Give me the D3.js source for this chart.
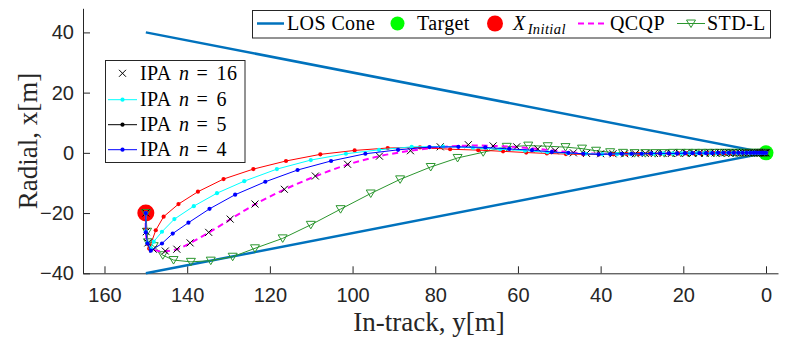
<!DOCTYPE html>
<html>
<head>
<meta charset="utf-8">
<script src="https://cdn.jsdelivr.net/npm/d3@7"></script>
<style>
  html, body { margin: 0; padding: 0; background: #fff; }
  svg { display: block; }
</style>
</head>
<body>
<svg id="chart" width="787" height="343"></svg>
<script>
// ---- data: [in-track y (m), radial x (m)] ----
const xTicks = [160, 140, 120, 100, 80, 60, 40, 20, 0];
const yTicks = [-40, -20, 0, 20, 40];

const losUpper = [[150, 40], [0, 0]];
const losLower = [[150, -40], [0, 0]];
const target = [0, 0];
const initialState = [150, -20];

const stdL = [[150,-20],[149.7,-26.2],[149.5,-29.7],[148.1,-31.0],[145.9,-34.0],[143.3,-35.6],[139.1,-36.2],
  [134.3,-35.8],[129.0,-34.5],[123.6,-31.7],[116.9,-28.4],[110.1,-23.9],[102.9,-18.7],[95.6,-13.5],[88.5,-8.8],
  [81.1,-4.7],[74.6,-1.7],[68.4,0.2],[62.7,2.0],[57.5,2.4],[52.8,2.2],[48.5,1.9],[44.5,1.4],[41.1,0.7],[37.7,0.2],
  [34.6,0],[31.8,-0.1],[29.2,-0.1],[26.8,-0.1],[24.6,-0.1],[22.5,0],[20.6,0],[18.8,0],[17.1,0],[15.5,0],[14.0,0],
  [12.6,0],[11.3,0],[10.1,0],[9.0,0],[7.9,0],[6.9,0],[6.0,0],[5.1,0],[4.3,0],[3.5,0],[2.8,0],[2.2,0],[1.6,0],
  [1.1,0],[0.6,0],[0.2,0],[0,0]];

const qcqp = [[150,-20],[150,-26],[149.6,-30],[148.6,-31.8],[147.0,-32.6],[145.3,-32.7],[142.5,-32.0],[139.3,-30.0],
  [134.8,-26.5],[129.6,-22.1],[123.6,-17.1],[116.5,-12.2],[109.0,-7.8],[101.2,-3.9],[93.5,-1.1],[86.0,0.7],
  [78.8,1.9],[72.0,2.4],[66.0,2.3],[60.3,1.9],[55.2,1.3],[51.0,0.7],[46.6,0.1],[43.4,-0.2],[40.0,-0.3],
  [34.0,-0.3],[28.0,-0.2],[22.0,-0.1],[16.0,-0.1],[10.0,0],[5.0,0],[0,0]];

const ipaN16 = [[150,-20],[149.9,-26.2],[149.5,-29.9],[148.2,-32.0],[145.3,-32.6],[142.5,-32.0],[139.3,-29.9],
  [134.8,-26.4],[129.6,-22.0],[123.6,-17.0],[116.5,-12.1],[109.0,-7.7],[101.2,-3.8],[93.5,-1.1],[86.0,0.7],
  [78.8,2.0],[72.0,2.7],[66.0,2.3],[60.3,2.0],[55.2,1.3],[51.0,0.7],[46.6,0],[43.4,-0.2],[40.0,-0.3],[37.0,-0.3],
  [34.2,-0.3],[31.6,-0.3],[29.2,-0.2],[27.0,-0.2],[24.9,-0.2],[22.9,-0.2],[21.0,-0.1],[19.3,-0.1],[17.7,-0.1],
  [16.2,-0.1],[14.8,-0.1],[13.5,0],[12.3,0],[11.1,0],[10.0,0],[9.0,0],[8.1,0],[7.2,0],[6.4,0],[5.6,0],[4.9,0],
  [4.2,0],[3.6,0],[3.0,0],[2.5,0],[2.0,0],[1.6,0],[1.2,0],[0.8,0],[0.5,0],[0.2,0],[0,0]];

const ipaN5 = [[150,-20],[150,-25.5],[149.6,-30.2],[149.2,-31.8],[147.6,-25.7],[145.7,-21.2],[142.1,-17.0],
  [137.4,-12.9],[131.2,-8.7],[124.0,-5.4],[116.1,-2.7],[107.8,-0.5],[99.5,0.8],[91.5,1.6],[83.7,1.8],[76.4,1.2],
  [69.6,0.9],[63.6,0.5],[58.0,0.1],[53.0,-0.2],[48.4,-0.4],[44.2,-0.5],[40.4,-0.5],[36.9,-0.5],[33.7,-0.4],
  [30.8,-0.4],[28.1,-0.3],[25.6,-0.3],[23.3,-0.3],[21.2,-0.2],[19.2,-0.2],[17.4,-0.2],[15.7,-0.2],[14.1,-0.1],
  [12.6,-0.1],[11.2,-0.1],[9.9,-0.1],[8.7,-0.1],[7.6,0],[6.6,0],[5.6,0],[4.7,0],[3.9,0],[3.1,0],[2.4,0],[1.8,0],
  [1.2,0],[0.7,0],[0.3,0],[0,0]];

const ipaN6 = [[150,-20],[150,-26],[149.6,-30],[148.8,-31.7],[148.1,-29.5],[146.1,-26.2],[143.1,-22.0],
  [138.4,-17.7],[132.8,-13.4],[126.2,-9.4],[118.3,-5.4],[110.1,-2.4],[101.6,-0.3],[93.6,1.0],[85.7,2.0],[78.1,2.1],
  [70.9,1.7],[64.3,1.2],[58.3,0.7],[52.9,0.2],[48.0,-0.1],[43.6,-0.3],[39.6,-0.4],[36.0,-0.4],[32.8,-0.4],
  [29.9,-0.3],[27.2,-0.3],[24.8,-0.2],[22.5,-0.2],[20.4,-0.2],[18.5,-0.1],[16.7,-0.1],[15.0,-0.1],[13.4,-0.1],
  [11.9,-0.1],[10.5,0],[9.2,0],[8.0,0],[6.9,0],[5.9,0],[4.9,0],[4.0,0],[3.2,0],[2.5,0],[1.8,0],[1.2,0],[0.7,0],
  [0.3,0],[0,0]];

const ipaN4 = [[150,-20],[150,-26.4],[149.6,-30.1],[148.8,-32.5],[146.1,-30.1],[143.5,-26.8],[139.7,-23.2],
  [134.6,-18.6],[128.4,-13.9],[121.1,-9.6],[113.3,-5.7],[105.2,-2.7],[96.9,-0.3],[89.0,1.0],[81.4,1.9],[74.4,2.0],
  [67.9,1.8],[62.1,1.3],[56.6,0.9],[51.8,0.3],[47.8,0],[44.2,-0.3],[40.5,-0.5],[37.7,-0.4],[34.9,-0.3],[32.5,-0.3],
  [30.1,-0.3],[27.8,-0.2],[25.6,-0.2],[23.5,-0.2],[21.5,-0.2],[19.6,-0.1],[17.8,-0.1],[16.1,-0.1],[14.5,-0.1],
  [13.0,-0.1],[11.6,0],[10.3,0],[9.0,0],[7.8,0],[6.7,0],[5.7,0],[4.7,0],[3.8,0],[3.0,0],[2.3,0],[1.6,0],[1.0,0],
  [0.5,0],[0,0]];

// ---- layout ----
const svg = d3.select("#chart");
const axisColor = "#262626";
const x = d3.scaleLinear().domain([165.2, -2.9]).range([83, 778]);
const y = d3.scaleLinear().domain([-40, 48]).range([273.3, 8.3]);

const colors = {
  los: "#0072BD", target: "#00FF00", initial: "#FF0000", qcqp: "#FF00FF",
  stdL: "#2b962e", n16: "#000000", n5: "#FF0000", n6: "#00FFFF", n4: "#0000FF"
};

// axes
const xAxis = d3.axisBottom(x).tickValues(xTicks).tickSizeInner(-7).tickSizeOuter(0).tickPadding(15);
const yAxis = d3.axisLeft(y).tickValues(yTicks).tickSizeInner(-7).tickSizeOuter(0).tickPadding(9);

function styleAxis(g) {
  g.select(".domain").attr("stroke", axisColor).attr("stroke-width", 1);
  g.selectAll(".tick line").attr("stroke", axisColor).attr("stroke-width", 1);
  g.selectAll(".tick text").attr("fill", axisColor)
    .style("font-family", "'Liberation Sans', Arial, sans-serif").style("font-size", "20px");
}
svg.append("g").attr("transform", `translate(0,${y(-40)})`).call(xAxis).call(styleAxis);
svg.append("g").attr("transform", `translate(${x(165.2)},0)`).call(yAxis).call(styleAxis);

// axis titles
const serif = "'Liberation Serif', 'Times New Roman', serif";
svg.append("text").attr("x", 429).attr("y", 331).attr("text-anchor", "middle")
  .style("font-family", serif).style("font-size", "27px").attr("fill", axisColor)
  .text("In-track, y[m]");
svg.append("text").attr("transform", "translate(37,141) rotate(-90)").attr("text-anchor", "middle")
  .style("font-family", serif).style("font-size", "27px").attr("fill", axisColor)
  .text("Radial, x[m]");

// plot content
const plot = svg.append("g");
const line = d3.line().x(d => x(d[0])).y(d => y(d[1]));

// target and initial state
plot.append("circle").attr("cx", x(target[0])).attr("cy", y(target[1])).attr("r", 7.5).attr("fill", colors.target);
plot.append("circle").attr("cx", x(initialState[0])).attr("cy", y(initialState[1])).attr("r", 8.5).attr("fill", colors.initial);

// LOS cone
[losUpper, losLower].forEach(seg => {
  plot.append("path").attr("d", line(seg)).attr("fill", "none")
    .attr("stroke", colors.los).attr("stroke-width", 2.5);
});

const triDown = "M-4.5,-3.5L4.5,-3.5L0,4Z";
function drawX(g, cx, cy, s, color) {
  g.append("path").attr("d", `M${cx - s},${cy - s}L${cx + s},${cy + s}M${cx - s},${cy + s}L${cx + s},${cy - s}`)
    .attr("stroke", color).attr("stroke-width", 1).attr("fill", "none");
}

// STD-L
plot.append("path").attr("d", line(stdL)).attr("fill", "none").attr("stroke", colors.stdL).attr("stroke-width", 1);
plot.append("g").selectAll("path").data(stdL).join("path")
  .attr("d", triDown).attr("transform", d => `translate(${x(d[0])},${y(d[1])})`)
  .attr("fill", "none").attr("stroke", colors.stdL).attr("stroke-width", 1);

// QCQP
const smooth = d3.line().x(d => x(d[0])).y(d => y(d[1])).curve(d3.curveCatmullRom);
plot.append("path").attr("d", smooth(qcqp)).attr("fill", "none")
  .attr("stroke", colors.qcqp).attr("stroke-width", 2).attr("stroke-dasharray", "6,4");

// IPA n = 16 (markers only)
const gx = plot.append("g");
ipaN16.forEach(d => drawX(gx, x(d[0]), y(d[1]), 3.5, colors.n16));

// IPA line + dot series
function dotSeries(data, color) {
  plot.append("path").attr("d", line(data)).attr("fill", "none").attr("stroke", color).attr("stroke-width", 1);
  plot.append("g").selectAll("circle").data(data).join("circle")
    .attr("cx", d => x(d[0])).attr("cy", d => y(d[1])).attr("r", 2.1).attr("fill", color);
}
dotSeries(ipaN5, colors.n5);
dotSeries(ipaN6, colors.n6);
dotSeries(ipaN4, colors.n4);

// ---- legend: trajectories and geometry ----
const leg1 = svg.append("g");
leg1.append("rect").attr("x", 252.5).attr("y", 10.5).attr("width", 518).attr("height", 27.5)
  .attr("fill", "#fff").attr("stroke", axisColor).attr("stroke-width", 1);
const ly = 23.5, lb = 29.5;
function legText(g, tx, tb) {
  return g.append("text").attr("x", tx).attr("y", tb).style("font-family", serif)
    .style("font-size", "20px").style("letter-spacing", "0.4px").attr("fill", "#000");
}
leg1.append("line").attr("x1", 257).attr("x2", 284).attr("y1", ly).attr("y2", ly)
  .attr("stroke", colors.los).attr("stroke-width", 2.5);
legText(leg1, 287, lb).text("LOS Cone");
leg1.append("circle").attr("cx", 397.5).attr("cy", ly).attr("r", 7).attr("fill", colors.target);
legText(leg1, 417, lb).text("Target");
leg1.append("circle").attr("cx", 495).attr("cy", ly).attr("r", 8).attr("fill", colors.initial);
const xi = legText(leg1, 513, lb);
xi.append("tspan").style("font-style", "italic").text("X");
xi.append("tspan").attr("dy", 4).attr("dx", 2).style("font-style", "italic").style("font-size", "14.5px").text("Initial");
leg1.append("line").attr("x1", 578).attr("x2", 608).attr("y1", ly).attr("y2", ly)
  .attr("stroke", colors.qcqp).attr("stroke-width", 2).attr("stroke-dasharray", "6,4");
legText(leg1, 610, lb).text("QCQP");
leg1.append("line").attr("x1", 677).attr("x2", 705).attr("y1", ly).attr("y2", ly)
  .attr("stroke", colors.stdL).attr("stroke-width", 1);
leg1.append("path").attr("d", triDown).attr("transform", `translate(691,${ly})`)
  .attr("fill", "none").attr("stroke", colors.stdL).attr("stroke-width", 1);
legText(leg1, 707, lb).text("STD-L");

// ---- legend: IPA variants ----
const leg2 = svg.append("g");
leg2.append("rect").attr("x", 105.5).attr("y", 60.5).attr("width", 139.5).attr("height", 102)
  .attr("fill", "#fff").attr("stroke", axisColor).attr("stroke-width", 1);
const ipaLegend = [
  { n: "16", color: colors.n16, kind: "x", cy: 73.3 },
  { n: "6", color: colors.n6, kind: "dot", cy: 99.7 },
  { n: "5", color: "#000000", kind: "dot", cy: 124.7 },
  { n: "4", color: colors.n4, kind: "dot", cy: 149.7 }
];
ipaLegend.forEach(e => {
  if (e.kind === "x") {
    drawX(leg2, 122.5, e.cy, 3.5, e.color);
  } else {
    leg2.append("line").attr("x1", 108).attr("x2", 137).attr("y1", e.cy).attr("y2", e.cy)
      .attr("stroke", e.color).attr("stroke-width", 1);
    leg2.append("circle").attr("cx", 122.5).attr("cy", e.cy).attr("r", 2.1).attr("fill", e.color);
  }
  const t = legText(leg2, 140, e.cy + 6.5);
  t.append("tspan").text("IPA");
  t.append("tspan").attr("x", 179).style("font-style", "italic").text("n");
  t.append("tspan").attr("x", 196.5).text("=");
  t.append("tspan").attr("x", 216.5).text(e.n);
});
</script>
</body>
</html>
